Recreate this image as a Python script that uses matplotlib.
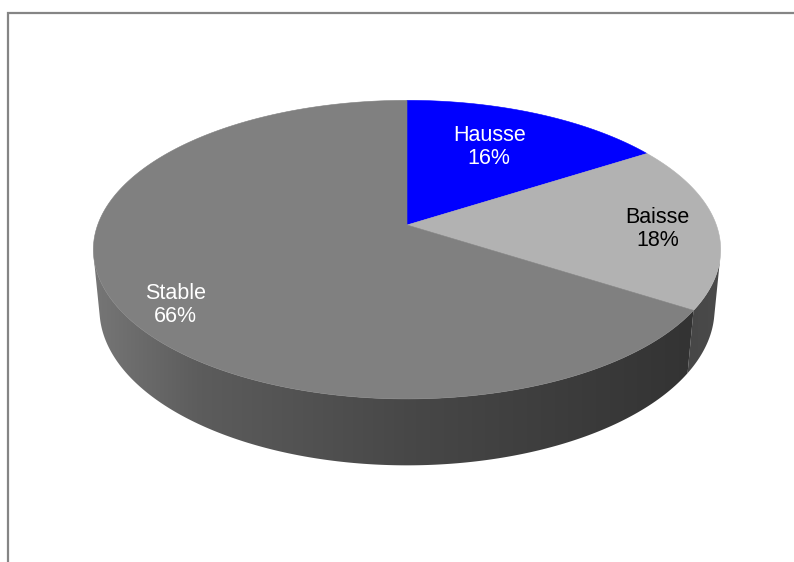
"""3D-style pie: Hausse / Baisse / Stable shares."""

import numpy as np
import matplotlib.pyplot as plt
from matplotlib.colors import to_rgb
from matplotlib.patches import Polygon

# data
labels = ['Hausse', 'Baisse', 'Stable']
values = [16, 18, 66]
top_colors = ['#0000ff', '#b2b2b2', '#808080']
text_colors = ['white', 'black', 'white']

# view / geometry (pixel space)
W, H = 794, 562
CX, CY = 407, 225
ELEV = np.radians(28)
DIST = 5.35
FOCAL = 1655
THICK = 0.22
LABEL_R = [0.60, 0.81, 0.80]
LABEL_DY = [-8, 4, 20]


def proj(u, v, h=0.0):
    """Perspective projection of a point on the unit disk (v = away from viewer)."""
    s, c = np.sin(ELEV), np.cos(ELEV)
    z = DIST + v * c - h * s
    x = CX + FOCAL * u / z
    y = CY - FOCAL * (v * s + h * c) / z
    return x, y


def side_shade(x):
    """Darkening factor of the rim along x: light on the left, dark on the right."""
    return np.interp(x, [90, 200, 407, 690, 725], [0.93, 0.72, 0.56, 0.40, 0.42])


fig = plt.figure(figsize=(W / 100, H / 100), dpi=100)
ax = fig.add_axes([0, 0, 1, 1])
ax.set_xlim(0, W)
ax.set_ylim(H, 0)
ax.axis('off')

# chart-area border (top and left only visible)
ax.plot([7.5, 7.5, W], [H, 12.5, 12.5], color='#858585', lw=1.6,
        solid_joinstyle='miter', solid_capstyle='butt')

# slice angles, clockwise from 12 o'clock
fracs = np.array(values, dtype=float) / sum(values)
ends = 90 - 360 * np.cumsum(fracs)
starts = np.concatenate([[90], ends[:-1]])

# visible part of the rim
tv = np.degrees(np.arcsin(1 / (DIST * np.cos(ELEV))))
vis_lo, vis_hi = -180 + tv, -tv

xs_px = np.arange(W) + 0.5
shade_row = side_shade(xs_px)

# rim first: gradient image clipped to each slice's rim
for a0, a1, col in zip(starts, ends, top_colors):
    hi = min(a0, vis_hi)
    lo = max(a1, vis_lo)
    if hi <= lo:
        continue
    th = np.radians(np.linspace(hi, lo, 200))
    xt, yt = proj(np.cos(th), np.sin(th), 0)
    xb, yb = proj(np.cos(th), np.sin(th), -THICK)
    pts = list(zip(xt, yt)) + list(zip(xb[::-1], yb[::-1]))
    rim = Polygon(pts, closed=True, facecolor='none', edgecolor='none')
    ax.add_patch(rim)
    rgb = np.array(to_rgb(col))
    img = np.clip(shade_row[None, :, None] * rgb[None, None, :], 0, 1)
    img = np.repeat(img, 2, axis=0)
    im = ax.imshow(img, extent=(0, W, H, 0), origin='upper',
                   interpolation='bilinear', aspect='auto', zorder=1)
    im.set_clip_path(rim)

# top faces
for a0, a1, col in zip(starts, ends, top_colors):
    th = np.radians(np.linspace(a0, a1, 200))
    xs, ys = proj(np.cos(th), np.sin(th), 0)
    pts = [(CX, CY)] + list(zip(xs, ys))
    ax.add_patch(Polygon(pts, closed=True, facecolor=col, edgecolor=col,
                         lw=0.4, zorder=2))

# labels
for a0, a1, name, val, r, dy, tc in zip(starts, ends, labels, values,
                                        LABEL_R, LABEL_DY, text_colors):
    mid = np.radians((a0 + a1) / 2)
    x, y = proj(r * np.cos(mid), r * np.sin(mid), 0)
    ax.text(x, y + dy, f'{name}\n{val}%', ha='center', va='center',
            color=tc, fontsize=15.5, family='Liberation Sans',
            linespacing=1.15, multialignment='center', zorder=3)

ax.set_xlim(0, W)
ax.set_ylim(H, 0)
plt.savefig('out.png', dpi=100)
plt.close()
